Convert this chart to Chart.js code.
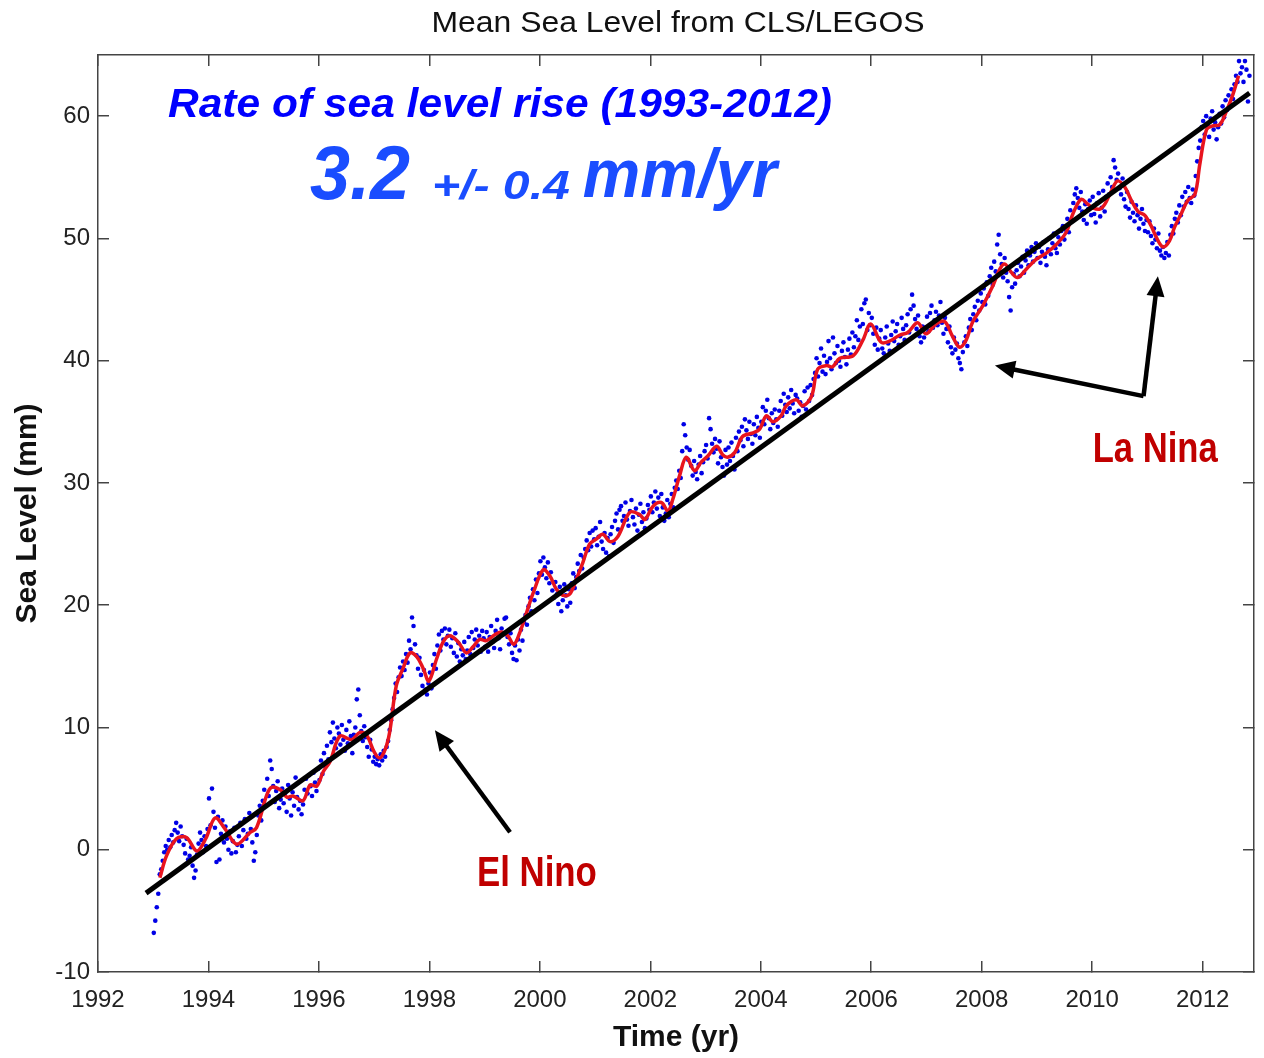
<!DOCTYPE html>
<html>
<head>
<meta charset="utf-8">
<title>Mean Sea Level from CLS/LEGOS</title>
<script src="https://cdn.jsdelivr.net/npm/chart.js@4.4.1/dist/chart.umd.min.js"></script>
<style>
  html, body { margin: 0; padding: 0; background: #fff; }
</style>
</head>
<body>
<canvas id="c" width="1264" height="1058"></canvas>
<script>
// altimetry samples, one every 1/37 yr starting at dotStart
const dotStart = 1993.01;
const dotsPerYear = 37;
const dotLevels = [
  // 1993
  -6.8,-5.8,-4.7,-3.6,-2.0,-1.6,-0.9,-0.2,0.3,0.0,0.8,0.2,1.2,0.6,1.6,2.2,1.4,0.7,1.9,1.1,0.4,-0.3,0.9,-0.8,-0.5,0.2,-1.3,-2.3,-1.7,-0.4,0.5,1.4,0.8,-0.2,1.1,0.3,1.7,
  // 1994
  4.2,2.0,5.0,3.1,1.8,-1.0,2.7,-0.8,1.3,2.4,0.6,1.9,0.9,0.0,1.5,-0.3,0.7,1.8,-0.2,0.4,1.1,2.2,0.3,1.6,2.5,0.9,1.3,3.0,1.7,0.6,-0.9,-0.2,1.2,2.8,3.6,2.4,4.0,
  // 1995
  4.9,3.6,5.8,4.4,7.3,6.6,5.2,3.9,4.8,5.6,3.4,4.1,5.0,3.8,4.6,3.1,5.3,4.2,2.8,4.7,3.6,5.9,4.3,3.3,4.0,2.9,3.7,4.9,5.8,4.6,6.1,5.2,4.4,6.3,5.5,4.8,6.6,
  // 1996
  5.7,7.3,6.2,7.9,6.8,8.5,7.4,9.6,8.8,10.4,9.1,8.3,10.0,9.5,8.6,10.2,9.0,8.1,9.8,8.7,10.5,9.3,7.9,9.4,10.0,12.3,13.1,11.0,9.7,8.9,10.1,9.2,8.4,7.6,9.0,8.2,7.2,
  // 1997
  7.6,7.0,7.4,6.9,7.8,7.3,8.1,7.6,8.4,8.9,9.8,10.6,11.5,12.4,13.6,12.9,14.1,14.9,14.2,15.4,14.7,16.0,15.3,17.1,16.4,19.0,18.3,16.8,15.9,14.8,15.7,14.3,13.4,14.7,13.1,12.7,13.6,
  // 1998
  14.5,13.2,15.1,16.0,14.8,16.7,17.6,16.3,17.9,17.2,18.1,16.8,17.5,18.0,16.6,17.3,16.1,17.7,15.8,16.9,15.4,16.4,15.9,17.0,15.6,16.3,17.4,16.0,17.8,16.5,17.2,18.0,16.7,17.5,16.2,17.9,17.3,
  // 1999
  16.6,17.8,16.2,17.4,18.3,17.0,16.5,17.9,18.8,17.3,16.4,18.1,17.6,18.9,19.0,17.4,16.8,17.7,16.1,15.6,16.7,15.5,17.2,16.3,18.0,17.1,18.6,19.2,18.4,19.9,20.6,19.5,21.3,20.4,22.1,21.0,22.6,
  // 2000
  23.6,22.5,23.9,23.1,22.2,23.5,21.8,22.7,21.2,20.6,21.9,20.9,20.1,21.5,19.5,20.4,21.7,20.8,19.9,21.3,20.2,21.8,22.6,21.4,22.3,23.4,22.8,24.1,23.0,23.9,24.6,25.3,24.5,25.9,24.8,26.1,25.4,
  // 2001
  26.3,24.9,25.6,26.8,25.2,24.6,25.9,24.3,25.5,24.0,25.8,26.4,25.1,26.9,27.5,26.2,27.8,28.1,26.9,27.3,28.4,27.0,26.5,27.7,28.6,27.2,26.6,27.9,26.1,27.4,28.3,26.8,27.6,26.3,27.1,28.2,27.8,
  // 2002
  28.9,27.6,28.4,29.3,27.9,28.8,27.3,29.1,28.0,26.9,27.5,28.6,27.2,28.3,29.1,28.0,29.6,30.2,29.5,31.0,30.4,32.6,34.8,33.9,32.9,31.9,32.7,31.4,30.6,31.8,30.9,30.3,31.5,32.2,30.8,31.7,32.6,
  // 2003
  33.1,32.0,35.3,34.4,33.2,32.5,33.6,32.8,31.6,33.4,32.1,31.3,30.6,32.7,31.5,32.9,31.8,33.3,32.2,31.1,33.7,32.6,34.2,33.5,34.6,33.0,35.2,34.3,33.6,35.0,34.0,33.2,34.8,33.9,35.4,34.5,33.7,
  // 2004
  35.0,36.2,34.8,35.9,36.8,35.3,34.4,35.7,34.9,36.0,35.2,34.6,35.9,36.7,35.5,37.3,36.4,35.8,37.0,36.1,37.6,36.5,35.7,37.2,36.9,35.9,36.6,35.4,36.3,37.5,36.0,37.8,36.7,38.0,37.2,38.5,39.0,
  // 2005
  40.2,38.7,39.8,41.0,39.1,40.4,38.9,39.9,41.6,40.2,39.3,41.9,40.6,39.8,41.2,40.0,39.5,40.8,41.5,40.3,39.7,40.9,41.8,40.5,42.3,41.1,42.0,43.3,41.7,42.8,44.2,43.0,44.7,45.0,42.5,43.9,42.9,
  // 2006
  43.5,42.2,41.3,42.7,40.9,41.8,42.5,41.0,40.6,41.9,42.8,41.4,40.8,42.1,43.2,41.6,42.4,43.0,41.3,42.0,43.5,42.6,41.7,42.9,43.8,42.3,44.2,45.4,44.5,43.4,42.6,43.7,42.0,41.5,42.8,41.9,42.7,
  // 2007
  43.6,42.4,43.9,44.5,42.7,43.3,44.0,42.9,43.7,44.8,43.1,42.2,43.5,42.6,41.5,42.8,41.1,40.6,41.9,40.9,41.4,40.2,39.8,39.3,40.7,41.5,42.0,41.2,42.7,43.4,42.5,43.8,44.4,43.3,44.9,44.1,45.5,
  // 2008
  44.8,45.9,44.6,46.4,45.3,46.9,47.6,46.2,48.1,47.3,49.5,50.3,48.7,47.9,46.8,48.4,47.2,46.5,45.2,44.1,46.0,47.1,46.3,47.4,48.0,46.9,47.7,48.5,47.2,48.2,49.0,47.8,48.6,49.3,48.1,48.9,49.6,
  // 2009
  48.4,49.3,48.0,48.9,49.7,48.5,47.8,49.1,50.0,48.7,49.6,50.4,49.2,48.8,50.1,49.5,50.6,51.0,49.9,50.7,51.6,50.5,52.3,51.4,52.9,53.6,54.1,53.3,52.5,53.8,52.2,51.5,52.8,51.2,52.4,53.1,51.9,
  // 2010
  53.4,52.0,51.3,52.9,53.7,51.8,52.5,53.9,52.2,53.4,54.5,53.6,55.0,54.2,56.4,55.8,54.8,55.3,54.1,53.6,54.9,53.2,52.6,53.8,52.4,51.7,53.0,52.1,51.4,52.7,51.9,50.8,51.6,52.4,51.2,50.6,51.5,
  // 2011
  50.5,51.4,50.2,49.6,50.8,49.9,49.2,50.4,49.0,48.6,49.3,48.4,48.8,49.7,48.6,50.3,51.0,50.4,51.6,52.1,51.3,52.7,51.9,53.4,52.6,53.8,53.0,54.2,53.3,52.9,54.0,53.5,55.1,56.3,57.4,58.0,59.1,
  // 2012
  59.6,58.5,60.0,59.2,58.3,59.8,60.4,58.9,59.5,58.1,59.1,60.2,59.4,60.8,59.9,61.3,60.5,61.7,60.9,62.2,61.4,62.6,63.3,62.8,64.5,63.5,64.0,62.8,64.5,63.8,61.2,63.3
];

// smoothed curve (red)
const smoothYears = [1993.12,1993.24,1993.42,1993.6,1993.79,1993.95,1994.12,1994.3,1994.51,1994.75,1994.87,
  1995.05,1995.14,1995.3,1995.42,1995.53,1995.71,1995.84,1995.96,1996.08,1996.2,1996.38,1996.59,1996.74,1996.86,
  1997.0,1997.1,1997.2,1997.28,1997.4,1997.52,1997.65,1997.77,1997.89,1997.99,1998.13,1998.25,1998.37,1998.52,
  1998.67,1998.79,1998.91,1999.03,1999.19,1999.31,1999.42,1999.53,1999.64,1999.76,1999.88,2000.06,2000.18,2000.3,
  2000.42,2000.54,2000.66,2000.78,2000.9,2001.02,2001.14,2001.27,2001.41,2001.63,2001.81,2001.9,2002.05,2002.2,
  2002.32,2002.41,2002.53,2002.65,2002.8,2002.92,2003.04,2003.2,2003.31,2003.4,2003.53,2003.67,2003.86,2003.98,
  2004.1,2004.22,2004.37,2004.46,2004.64,2004.76,2004.92,2005.03,2005.19,2005.3,2005.43,2005.67,2005.85,2005.99,
  2006.18,2006.33,2006.52,2006.66,2006.84,2006.99,2007.17,2007.33,2007.47,2007.6,2007.72,2007.83,2008.02,2008.2,
  2008.33,2008.42,2008.54,2008.65,2008.81,2008.99,2009.17,2009.35,2009.53,2009.65,2009.8,2009.92,2010.01,2010.14,
  2010.23,2010.35,2010.46,2010.59,2010.71,2010.83,2010.95,2011.07,2011.16,2011.28,2011.4,2011.49,2011.61,2011.73,
  2011.86,2011.95,2012.07,2012.18,2012.31,2012.43,2012.55,2012.65];
const smoothLevels = [-2.3,-0.5,0.9,1.0,-0.1,0.9,2.6,1.7,0.45,1.4,1.8,
  4.4,5.1,4.9,4.3,4.4,4.0,5.3,5.2,6.4,7.2,9.3,9.0,9.6,9.4,
  8.0,7.5,8.2,9.6,13.4,14.8,16.1,15.8,14.8,13.8,15.6,17.0,17.5,17.0,
  16.1,16.6,17.2,17.1,17.6,17.8,17.5,16.8,17.8,19.4,21.0,22.9,22.4,21.3,
  20.8,20.9,22.1,23.5,25.0,25.4,25.8,25.2,25.6,27.6,27.4,27.0,28.1,28.4,
  27.7,28.7,30.6,32.1,31.0,31.7,32.2,33.0,32.3,32.1,32.5,33.8,34.1,34.4,
  35.5,35.0,35.5,36.3,36.8,36.3,37.1,39.3,39.6,39.5,40.2,40.4,41.7,43.0,
  41.5,41.6,42.1,42.3,43.1,42.2,43.0,43.2,42.0,41.1,41.7,43.1,44.5,46.1,
  47.5,47.9,47.2,46.8,47.5,48.3,48.8,49.5,50.5,52.0,53.2,52.8,52.5,52.4,
  52.8,53.9,54.7,54.2,53.1,52.2,51.9,51.0,50.1,49.3,49.8,50.9,52.0,53.1,
  53.6,56.1,58.9,59.2,59.3,60.4,61.8,63.3];

// linear trend (black)
const trendYears = [1992.87, 2012.85];
const trendLevels = [-3.55, 61.9];

// arrows, in data units: [year, mm]; first point is the tail
const elNinoArrow = [[1999.46, 1.43], [1998.10, 9.77]];
const laNinaArrowA = [[2010.93, 37.1], [2008.24, 39.6]];
const laNinaArrowB = [[2010.93, 37.1], [2011.19, 46.9]];

const family = '"Liberation Sans", Arial, Helvetica, sans-serif';

// text notes, anchored at left/baseline in data units, squeezed to a width in px
const notes = [
  { text: 'Rate of sea level rise (1993-2012)', x: 1993.267, y: 59.89, font: 'italic bold 40px ' + family, color: '#0000ff', w: 664 },
  { text: '3.2', x: 1995.837, y: 53.19, font: 'italic bold 76px ' + family, color: '#1a4dff', w: 100 },
  { text: '+/- 0.4', x: 1998.045, y: 53.19, font: 'italic bold 40px ' + family, color: '#1a4dff', w: 138 },
  { text: 'mm/yr', x: 2000.778, y: 53.35, font: 'italic bold 68px ' + family, color: '#1a4dff', w: 194 },
  { text: 'La Nina', x: 2010.009, y: 31.73, font: 'bold 42px ' + family, color: '#c00000', w: 125 },
  { text: 'El Nino', x: 1998.86, y: -2.98, font: 'bold 42px ' + family, color: '#c00000', w: 120 },
];

function fitText(ctx, text, x, y, font, color, width, align) {
  ctx.save();
  ctx.font = font;
  ctx.fillStyle = color;
  ctx.textBaseline = 'alphabetic';
  ctx.textAlign = align || 'left';
  const k = width / ctx.measureText(text).width;
  ctx.translate(x, y);
  ctx.scale(k, 1);
  ctx.fillText(text, 0, 0);
  ctx.restore();
}

function drawArrow(ctx, sx, sy, pts) {
  const p = pts.map(([a, b]) => [sx.getPixelForValue(a), sy.getPixelForValue(b)]);
  const [tx, ty] = p[p.length - 1];
  const [px, py] = p[p.length - 2];
  const ang = Math.atan2(ty - py, tx - px);
  const head = 20, half = 9;
  const bx = tx - head * Math.cos(ang), by = ty - head * Math.sin(ang);
  ctx.save();
  ctx.strokeStyle = '#000';
  ctx.fillStyle = '#000';
  ctx.lineWidth = 4.5;
  ctx.beginPath();
  ctx.moveTo(p[0][0], p[0][1]);
  for (let i = 1; i < p.length - 1; i++) ctx.lineTo(p[i][0], p[i][1]);
  ctx.lineTo(bx + 2 * Math.cos(ang), by + 2 * Math.sin(ang));
  ctx.stroke();
  ctx.beginPath();
  ctx.moveTo(tx, ty);
  ctx.lineTo(bx + half * Math.sin(ang), by - half * Math.cos(ang));
  ctx.lineTo(bx - half * Math.sin(ang), by + half * Math.cos(ang));
  ctx.closePath();
  ctx.fill();
  ctx.restore();
}

const annotate = {
  id: 'annotate',
  afterDatasetsDraw(chart) {
    const { ctx, chartArea: a } = chart;
    const sx = chart.scales.x, sy = chart.scales.y;
    drawArrow(ctx, sx, sy, elNinoArrow);
    drawArrow(ctx, sx, sy, laNinaArrowA);
    drawArrow(ctx, sx, sy, laNinaArrowB);
    notes.forEach((n) =>
      fitText(ctx, n.text, sx.getPixelForValue(n.x), sy.getPixelForValue(n.y), n.font, n.color, n.w),
    );
    fitText(ctx, 'Mean Sea Level from CLS/LEGOS', (a.left + a.right) / 2 + 2, 32,
      '30px ' + family, '#111', 493, 'center');
  },
};

const dots = dotLevels.map((v, i) => ({ x: dotStart + i / dotsPerYear, y: v }));
const smooth = smoothYears.map((t, i) => ({ x: t, y: smoothLevels[i] }));
const trend = trendYears.map((t, i) => ({ x: t, y: trendLevels[i] }));

const axisColor = '#444';
const tickFont = { family, size: 24 };

function sideAxis(position, size) {
  const horiz = position === 'top';
  return {
    type: 'linear',
    position,
    min: horiz ? 1992 : -10,
    max: horiz ? 2012.93 : 65,
    ticks: { display: false, stepSize: horiz ? 2 : 10, includeBounds: false },
    grid: { drawOnChartArea: false, drawTicks: true, tickLength: -11, color: axisColor, lineWidth: 1.5 },
    border: { color: axisColor, width: 1.5 },
    afterFit: (s) => { if (horiz) s.height = size; else s.width = size; },
  };
}

new Chart(document.getElementById('c'), {
  data: {
    datasets: [
      { type: 'line', data: trend, borderColor: '#000', borderWidth: 5, pointRadius: 0, order: 0 },
      { type: 'line', data: smooth, borderColor: '#e8141e', borderWidth: 3.5, pointRadius: 0, tension: 0.35, order: 1 },
      { type: 'scatter', data: dots, backgroundColor: '#0000e6', borderWidth: 0, pointRadius: 2.3, order: 2 },
    ],
  },
  options: {
    responsive: false,
    animation: false,
    devicePixelRatio: 1,
    layout: { padding: 0 },
    plugins: { legend: { display: false }, tooltip: { enabled: false }, title: { display: false } },
    scales: {
      x: {
        type: 'linear',
        position: 'bottom',
        min: 1992,
        max: 2012.93,
        ticks: { stepSize: 2, includeBounds: false, autoSkip: false, maxRotation: 0, padding: 24.6, color: '#222', font: tickFont, callback: (v) => String(v) },
        grid: { drawOnChartArea: false, drawTicks: true, tickLength: -11, color: axisColor, lineWidth: 1.5 },
        border: { color: axisColor, width: 1.5 },
        title: { display: true, text: 'Time (yr)', color: '#111', font: { family, size: 30, weight: 'bold' }, padding: { top: 0, bottom: 2 } },
        afterFit: (s) => { s.height = 86; },
      },
      y: {
        type: 'linear',
        position: 'left',
        min: -10,
        max: 65,
        ticks: { stepSize: 10, includeBounds: false, padding: 19, color: '#222', font: tickFont },
        grid: { drawOnChartArea: false, drawTicks: true, tickLength: -11, color: axisColor, lineWidth: 1.5 },
        border: { color: axisColor, width: 1.5 },
        title: { display: true, text: 'Sea Level (mm)', color: '#111', font: { family, size: 30, weight: 'bold' }, padding: { top: 10, bottom: 0 } },
        afterFit: (s) => { s.width = 98; },
      },
      x2: sideAxis('top', 55),
      y2: sideAxis('right', 10),
    },
  },
  plugins: [annotate],
});
</script>
</body>
</html>
